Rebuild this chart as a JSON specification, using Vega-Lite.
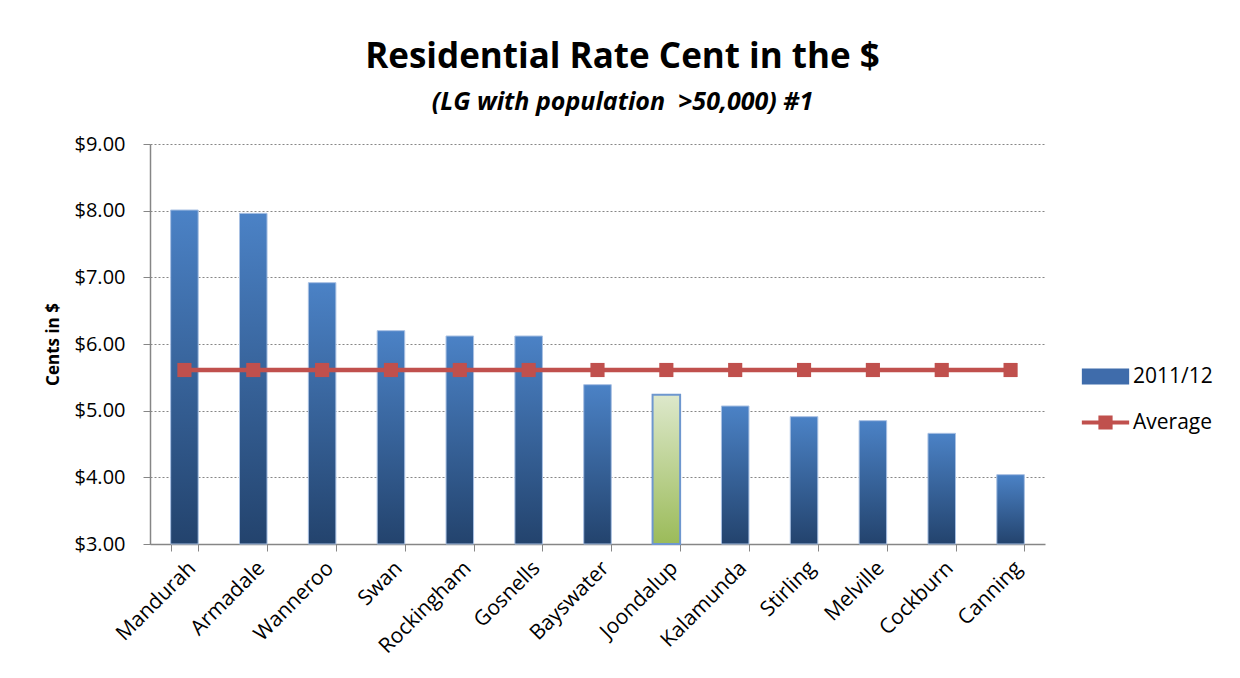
{
  "$schema": "https://vega.github.io/schema/vega-lite/v6.json",
  "width": 895,
  "height": 400,
  "autosize": {"type": "none"},
  "padding": {"left": 150, "top": 144, "right": 195, "bottom": 134},
  "background": "white",
  "config": {"view": {"stroke": null}, "font": "Open Sans"},
  "title": {
    "text": "Residential Rate Cent in the $",
    "subtitle": "(LG with population \u00a0>50,000) #1",
    "anchor": "middle",
    "frame": "group",
    "dx": 25,
    "offset": 19,
    "font": "Open Sans",
    "fontSize": 35,
    "fontWeight": "bold",
    "color": "#000000",
    "subtitleFont": "Open Sans",
    "subtitleFontSize": 25,
    "subtitleFontWeight": "bold",
    "subtitleFontStyle": "italic",
    "subtitleColor": "#000000",
    "subtitlePadding": 15
  },
  "data": {
    "values": [
      {"council": "Mandurah", "rate": 8.01, "average": 5.61},
      {"council": "Armadale", "rate": 7.96, "average": 5.61},
      {"council": "Wanneroo", "rate": 6.92, "average": 5.61},
      {"council": "Swan", "rate": 6.20, "average": 5.61},
      {"council": "Rockingham", "rate": 6.12, "average": 5.61},
      {"council": "Gosnells", "rate": 6.12, "average": 5.61},
      {"council": "Bayswater", "rate": 5.39, "average": 5.61},
      {"council": "Joondalup", "rate": 5.24, "average": 5.61},
      {"council": "Kalamunda", "rate": 5.07, "average": 5.61},
      {"council": "Stirling", "rate": 4.91, "average": 5.61},
      {"council": "Melville", "rate": 4.85, "average": 5.61},
      {"council": "Cockburn", "rate": 4.66, "average": 5.61},
      {"council": "Canning", "rate": 4.04, "average": 5.61}
    ]
  },
  "encoding": {
    "x": {
      "field": "council",
      "type": "nominal",
      "sort": null,
      "scale": {
        "domain": ["Mandurah", "Armadale", "Wanneroo", "Swan", "Rockingham", "Gosnells", "Bayswater", "Joondalup", "Kalamunda", "Stirling", "Melville", "Cockburn", "Canning"],
        "paddingInner": 0.6,
        "paddingOuter": 0.3
      },
      "axis": {
        "title": null,
        "labelAngle": -45,
        "labelFont": "Open Sans",
        "labelFontSize": 21,
        "labelColor": "#000000",
        "labelPadding": 6,
        "tickBand": "extent",
        "tickSize": 7,
        "tickColor": "#868686",
        "domainColor": "#868686",
        "domainWidth": 1.5,
        "grid": false
      }
    }
  },
  "layer": [
    {
      "transform": [{"filter": "datum.council !== 'Joondalup'"}],
      "mark": {
        "type": "bar",
        "fill": {
          "gradient": "linear",
          "x1": 0, "y1": 0, "x2": 0, "y2": 1,
          "stops": [
            {"offset": 0, "color": "#4B82C6"},
            {"offset": 1, "color": "#23436D"}
          ]
        },
        "stroke": "#A9C1E3",
        "strokeWidth": 1
      },
      "encoding": {
        "y": {
          "field": "rate",
          "type": "quantitative",
          "scale": {"domain": [3, 9], "nice": false, "zero": false},
          "axis": {
            "values": [3, 4, 5, 6, 7, 8, 9],
            "format": "$.2f",
            "title": "Cents in $",
            "titleFont": "Open Sans",
            "titleFontSize": 17,
            "titleFontWeight": "bold",
            "titleColor": "#000000",
            "titlePadding": 12,
            "labelFont": "Open Sans",
            "labelFontSize": 20,
            "labelColor": "#000000",
            "labelPadding": 18,
            "tickSize": 7,
            "tickColor": "#868686",
            "domainColor": "#868686",
            "domainWidth": 1.5,
            "grid": true,
            "gridColor": "#868686",
            "gridDash": [2, 2],
            "gridWidth": 1
          }
        },
        "y2": {"datum": 3}
      }
    },
    {
      "transform": [{"filter": "datum.council === 'Joondalup'"}],
      "mark": {
        "type": "bar",
        "fill": {
          "gradient": "linear",
          "x1": 0, "y1": 0, "x2": 0, "y2": 1,
          "stops": [
            {"offset": 0, "color": "#DDE8CB"},
            {"offset": 1, "color": "#9BBB59"}
          ]
        },
        "stroke": "#6E97CF",
        "strokeWidth": 2
      },
      "encoding": {
        "y": {"field": "rate", "type": "quantitative"},
        "y2": {"datum": 3}
      }
    },
    {
      "mark": {"type": "line", "color": "#C0504D", "strokeWidth": 4.5},
      "encoding": {
        "y": {"field": "average", "type": "quantitative"}
      }
    },
    {
      "mark": {"type": "point", "shape": "square", "filled": true, "color": "#C0504D", "opacity": 1, "size": 200},
      "encoding": {
        "y": {"field": "average", "type": "quantitative"}
      }
    },
    {
      "mark": {"type": "point", "filled": true, "opacity": 0, "size": 1849},
      "encoding": {
        "y": {"field": "average", "type": "quantitative"},
        "color": {
          "datum": "Average",
          "type": "nominal",
          "scale": {"domain": ["2011/12", "Average"], "range": ["#3F6CAB", "#C0504D"]},
          "legend": {
            "title": null,
            "orient": "none",
            "legendX": 934,
            "legendY": 211,
            "symbolSize": 1849,
            "symbolOpacity": 1,
            "symbolStrokeWidth": 0,
            "labelFont": "Open Sans",
            "labelFontSize": 21,
            "labelColor": "#000000",
            "labelOffset": 6,
            "rowPadding": 14,
            "padding": 0
          }
        },
        "shape": {
          "datum": "Average",
          "type": "nominal",
          "scale": {
            "domain": ["2011/12", "Average"],
            "range": [
              "M-1.1,-0.37H1.1V0.37H-1.1Z",
              "M-1.1,-0.09H-0.33V-0.33H0.33V-0.09H1.1V0.09H0.33V0.33H-0.33V0.09H-1.1Z"
            ]
          },
          "legend": {
            "title": null,
            "orient": "none",
            "legendX": 934,
            "legendY": 211,
            "symbolSize": 1849,
            "symbolOpacity": 1,
            "symbolStrokeWidth": 0,
            "labelFont": "Open Sans",
            "labelFontSize": 21,
            "labelColor": "#000000",
            "labelOffset": 6,
            "rowPadding": 14,
            "padding": 0
          }
        }
      }
    }
  ]
}
